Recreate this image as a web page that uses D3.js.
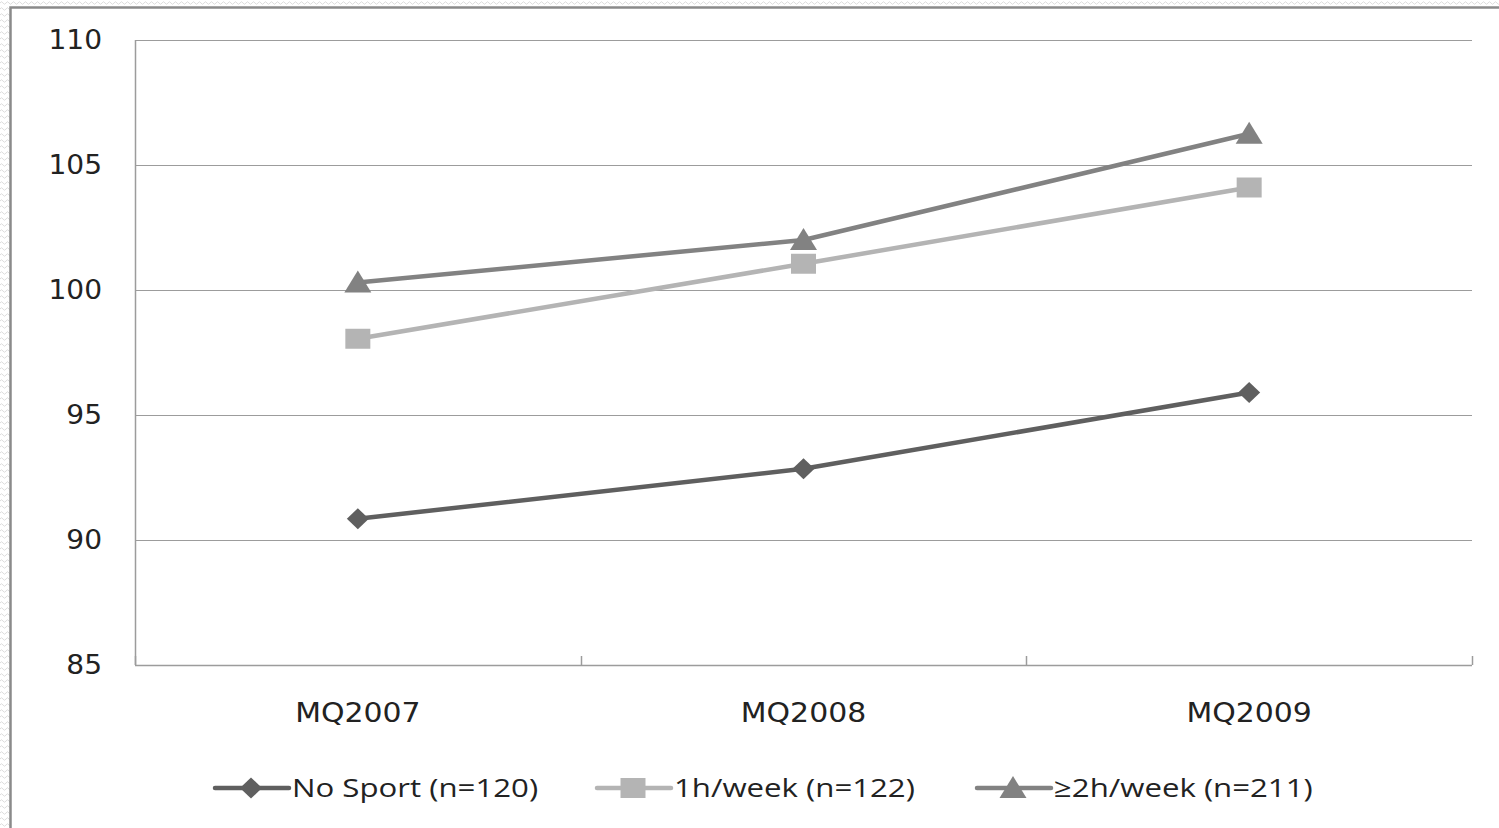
<!DOCTYPE html>
<html>
<head>
<meta charset="utf-8">
<script src="https://cdn.jsdelivr.net/npm/d3@7"></script>
<style>
  html, body { margin: 0; padding: 0; background: #fff; }
  svg { display: block; }
</style>
</head>
<body>
<svg id="chart" width="1499" height="828"></svg>
<script>
// Survey waves on the x axis
const categories = ["MQ2007", "MQ2008", "MQ2009"];
// Mean scores per activity group
const noSport = [90.85, 92.85, 95.9];
const oneHour = [98.05, 101.05, 104.1];
const twoHours = [100.3, 102.0, 106.25];
// Value-axis ticks
const yTicks = [85, 90, 95, 100, 105, 110];
const seriesNames = ["No Sport (n=120)", "1h/week (n=122)", "\u22652h/week (n=211)"];

const series = [
  { name: seriesNames[0], values: noSport, color: "#5f5f5f", marker: "diamond" },
  { name: seriesNames[1], values: oneHour, color: "#b4b4b4", marker: "square" },
  { name: seriesNames[2], values: twoHours, color: "#828282", marker: "triangle" }
];

const W = 1499, H = 828;
const plot = { left: 135, right: 1472, top: 40, bottom: 665 };
const axisColor = "#9c9c9c";

const svg = d3.select("#chart");

// Textured surround and framed chart area
const defs = svg.append("defs");
const pat = defs.append("pattern")
  .attr("id", "wave").attr("width", 6).attr("height", 6)
  .attr("patternUnits", "userSpaceOnUse");
pat.append("path")
  .attr("d", "M0,3 Q1.5,0.5 3,3 T6,3")
  .attr("fill", "none").attr("stroke", "#dcdcdc").attr("stroke-width", 1);
svg.append("rect").attr("width", W).attr("height", H).attr("fill", "url(#wave)");
svg.append("rect")
  .attr("x", 10.5).attr("y", 7.5).attr("width", W + 20).attr("height", H + 20)
  .attr("fill", "#fff").attr("stroke", "#8a8a8a").attr("stroke-width", 2.5);

const x = d3.scaleBand().domain(categories).range([plot.left, plot.right]);
const xc = c => x(c) + x.bandwidth() / 2;
const y = d3.scaleLinear().domain([85, 110]).range([plot.bottom, plot.top]);

// Horizontal gridlines
svg.append("g").selectAll("line").data(yTicks.filter(t => t > 85)).join("line")
  .attr("x1", plot.left).attr("x2", plot.right)
  .attr("y1", d => Math.round(y(d)) + 0.5).attr("y2", d => Math.round(y(d)) + 0.5)
  .attr("stroke", axisColor).attr("stroke-width", 1.2);

// Value axis line
svg.append("line")
  .attr("x1", plot.left + 0.5).attr("x2", plot.left + 0.5)
  .attr("y1", plot.top).attr("y2", plot.bottom)
  .attr("stroke", axisColor).attr("stroke-width", 1.5);

// Category axis with boundary ticks
const xAxis = d3.axisBottom(x).tickSize(0).tickFormat("");
const xg = svg.append("g").attr("transform", `translate(0,${plot.bottom + 0.5})`).call(xAxis);
xg.select(".domain").attr("stroke", axisColor).attr("stroke-width", 1.5).attr("d", `M${plot.left},0H${plot.right}`);
const boundaries = categories.map(c => x(c) + x.bandwidth()).concat([x(categories[0])]);
svg.append("g").selectAll("line").data(boundaries).join("line")
  .attr("x1", d => Math.round(d) + 0.5).attr("x2", d => Math.round(d) + 0.5)
  .attr("y1", plot.bottom - 9).attr("y2", plot.bottom)
  .attr("stroke", axisColor).attr("stroke-width", 1.5);

// Tick labels
const labelFont = "'DejaVu Sans', Verdana, sans-serif";
svg.append("g").selectAll("text").data(yTicks).join("text")
  .attr("transform", d => `translate(102,${y(d) + 9}) scale(1.08,1)`)
  .attr("text-anchor", "end")
  .attr("font-family", labelFont).attr("font-size", 26).attr("fill", "#222")
  .text(d => d);

svg.append("g").selectAll("text").data(categories).join("text")
  .attr("transform", d => `translate(${xc(d)},${plot.bottom + 57}) scale(1.15,1)`)
  .attr("text-anchor", "middle")
  .attr("font-family", labelFont).attr("font-size", 26).attr("fill", "#222")
  .text(d => d);

// Marker outlines, width and height given separately
function markerPath(type, w, h) {
  const a = w / 2, b = h / 2;
  if (type === "diamond") return `M0,${-b}L${a},0L0,${b}L${-a},0Z`;
  if (type === "square") return `M${-a},${-b}H${a}V${b}H${-a}Z`;
  return `M0,${-b - 1}L${a},${b - 1}L${-a},${b - 1}Z`;
}
const markerSize = { diamond: [22, 21], square: [25, 20], triangle: [27, 22] };

const line = d3.line().x((d, i) => xc(categories[i])).y(d => y(d));

series.forEach(s => {
  const g = svg.append("g");
  g.append("path").datum(s.values)
    .attr("d", line).attr("fill", "none")
    .attr("stroke", s.color).attr("stroke-width", 4.5).attr("stroke-linejoin", "round");
  g.selectAll("path.m").data(s.values).join("path").attr("class", "m")
    .attr("transform", (d, i) => `translate(${xc(categories[i])},${y(d)})`)
    .attr("d", markerPath(s.marker, ...markerSize[s.marker]))
    .attr("fill", s.color);
});

// Legend
const legendX = [215, 597, 977];
const legendY = 788;
const lg = svg.append("g");
series.forEach((s, i) => {
  const g = lg.append("g").attr("transform", `translate(${legendX[i]},${legendY})`);
  g.append("line").attr("x1", 0).attr("x2", 74).attr("y1", 0).attr("y2", 0)
    .attr("stroke", s.color).attr("stroke-width", 4.5).attr("stroke-linecap", "round");
  g.append("path").attr("transform", "translate(36,0)")
    .attr("d", markerPath(s.marker, ...markerSize[s.marker])).attr("fill", s.color);
  g.append("text")
    .attr("transform", "translate(77,9) scale(1.2,1)")
    .attr("font-family", "'Open Sans', sans-serif").attr("font-size", 26).attr("fill", "#222")
    .text(s.name);
});
</script>
</body>
</html>
